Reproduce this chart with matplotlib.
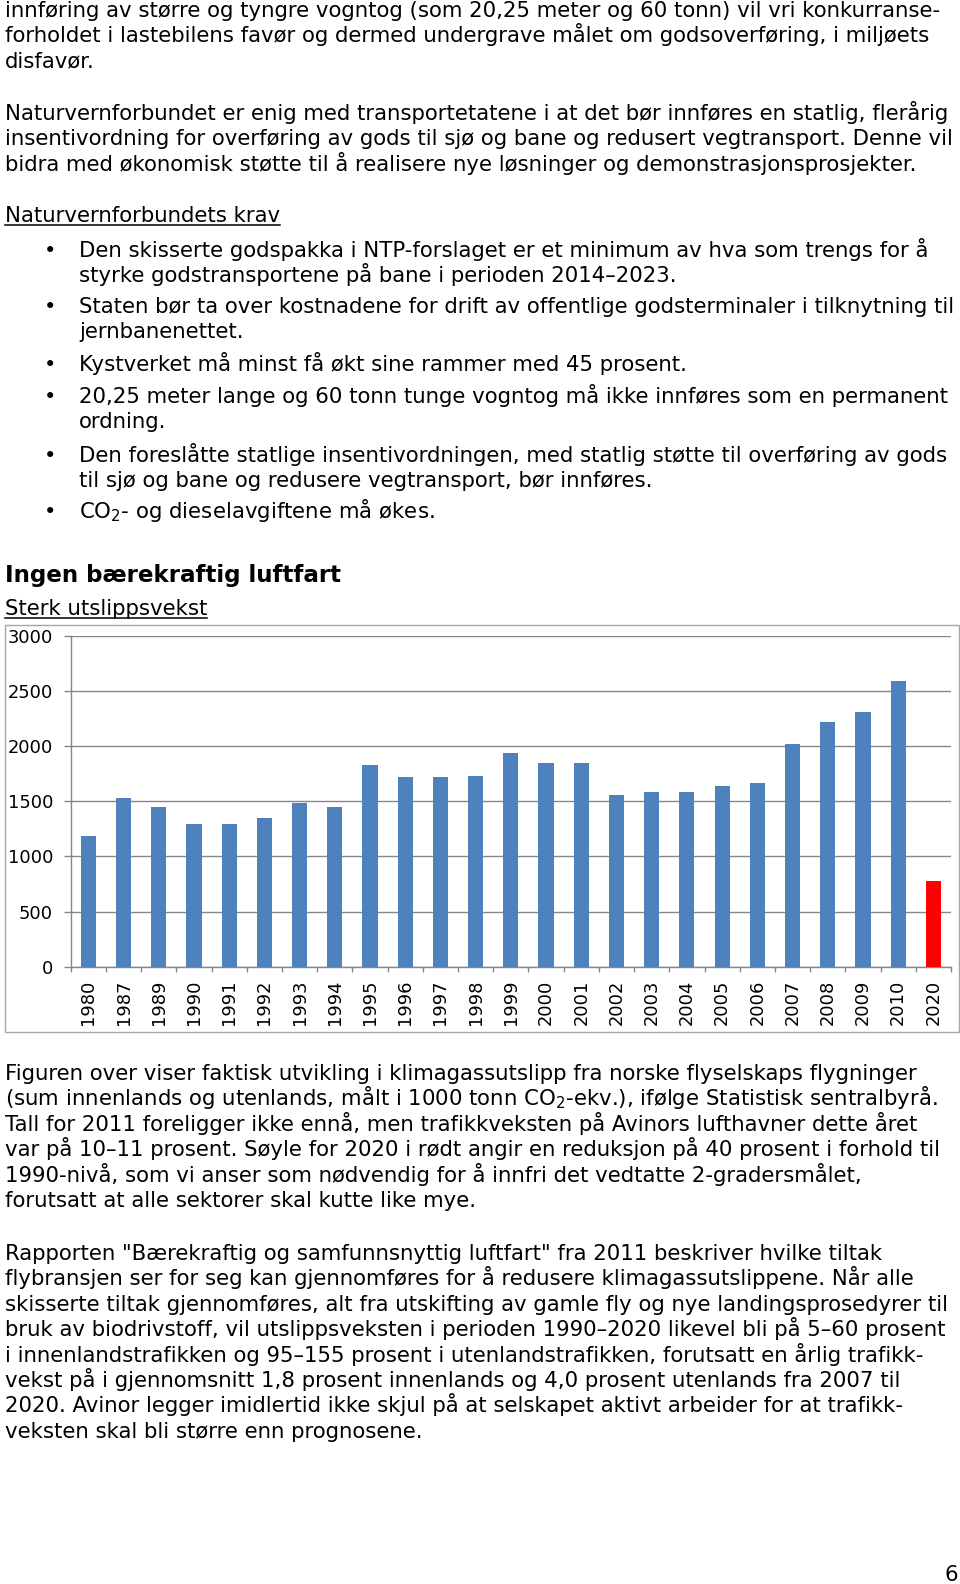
import matplotlib
matplotlib.use("Agg")
import matplotlib.pyplot as plt
from matplotlib.patches import Rectangle
from matplotlib.lines import Line2D

# ---------------- data ----------------
years = ["1980", "1987", "1989", "1990", "1991", "1992", "1993", "1994", "1995",
         "1996", "1997", "1998", "1999", "2000", "2001", "2002", "2003", "2004",
         "2005", "2006", "2007", "2008", "2009", "2010", "2020"]
emissions = [1190, 1527, 1448, 1297, 1297, 1348, 1488, 1448, 1827,
             1721, 1721, 1730, 1942, 1845, 1845, 1555, 1588, 1588,
             1642, 1670, 2024, 2224, 2315, 2591, 780]
bar_colors = ["#4F81BD"] * 24 + ["#FF0000"]
y_ticks = [0, 500, 1000, 1500, 2000, 2500, 3000]

para1 = ["innføring av større og tyngre vogntog (som 20,25 meter og 60 tonn) vil vri konkurranse-",
         "forholdet i lastebilens favør og dermed undergrave målet om godsoverføring, i miljøets",
         "disfavør."]
para2 = ["Naturvernforbundet er enig med transportetatene i at det bør innføres en statlig, flerårig",
         "insentivordning for overføring av gods til sjø og bane og redusert vegtransport. Denne vil",
         "bidra med økonomisk støtte til å realisere nye løsninger og demonstrasjonsprosjekter."]
krav_title = "Naturvernforbundets krav"
bullets = [["Den skisserte godspakka i NTP-forslaget er et minimum av hva som trengs for å",
            "styrke godstransportene på bane i perioden 2014–2023."],
           ["Staten bør ta over kostnadene for drift av offentlige godsterminaler i tilknytning til",
            "jernbanenettet."],
           ["Kystverket må minst få økt sine rammer med 45 prosent."],
           ["20,25 meter lange og 60 tonn tunge vogntog må ikke innføres som en permanent",
            "ordning."],
           ["Den foreslåtte statlige insentivordningen, med statlig støtte til overføring av gods",
            "til sjø og bane og redusere vegtransport, bør innføres."],
           ["CO$_2$- og dieselavgiftene må økes."]]
heading = "Ingen bærekraftig luftfart"
chart_title = "Sterk utslippsvekst"
para3 = ["Figuren over viser faktisk utvikling i klimagassutslipp fra norske flyselskaps flygninger",
         "(sum innenlands og utenlands, målt i 1000 tonn CO$_2$-ekv.), ifølge Statistisk sentralbyrå.",
         "Tall for 2011 foreligger ikke ennå, men trafikkveksten på Avinors lufthavner dette året",
         "var på 10–11 prosent. Søyle for 2020 i rødt angir en reduksjon på 40 prosent i forhold til",
         "1990-nivå, som vi anser som nødvendig for å innfri det vedtatte 2-gradersmålet,",
         "forutsatt at alle sektorer skal kutte like mye."]
para4 = ["Rapporten \"Bærekraftig og samfunnsnyttig luftfart\" fra 2011 beskriver hvilke tiltak",
         "flybransjen ser for seg kan gjennomføres for å redusere klimagassutslippene. Når alle",
         "skisserte tiltak gjennomføres, alt fra utskifting av gamle fly og nye landingsprosedyrer til",
         "bruk av biodrivstoff, vil utslippsveksten i perioden 1990–2020 likevel bli på 5–60 prosent",
         "i innenlandstrafikken og 95–155 prosent i utenlandstrafikken, forutsatt en årlig trafikk-",
         "vekst på i gjennomsnitt 1,8 prosent innenlands og 4,0 prosent utenlands fra 2007 til",
         "2020. Avinor legger imidlertid ikke skjul på at selskapet aktivt arbeider for at trafikk-",
         "veksten skal bli større enn prognosene."]
page_no = "6"

# ---------------- figure ----------------
W, H = 960, 1584
plt.rcParams['font.family'] = ['DejaVu Sans']
plt.rcParams['mathtext.fontset'] = 'dejavusans'
fig = plt.figure(figsize=(W / 100, H / 100), dpi=100)
fig.patch.set_facecolor("white")

FS = 15.3
LH = 25.4


def px(x, y):
    return x / W, 1 - y / H


texts_to_underline = []


def put(x, y, s, underline=False, **kw):
    kw.setdefault("fontsize", FS)
    t = fig.text(*px(x, y), s, ha="left", va="baseline", color="black", **kw)
    if underline:
        texts_to_underline.append((t, y))
    return t


LX = 5
y = 17
for line in para1:
    put(LX, y, line); y += LH
y = 120
for line in para2:
    put(LX, y, line); y += LH
put(LX, 221.7, krav_title, underline=True)
bullet_y = [256.7, 313, 371, 402.7, 461.7, 518.3]
for by, blines in zip(bullet_y, bullets):
    put(44, by, "•")
    yy = by
    for line in blines:
        put(79, yy, line); yy += LH
put(LX, 581.7, heading, fontsize=16.6, fontweight="bold")
put(LX, 615, chart_title, underline=True)
y = 1080
for line in para3:
    put(LX, y, line); y += LH
y = 1260
for line in para4:
    put(LX, y, line); y += LH
fig.text(*px(958, 1581), page_no, ha="right", va="baseline", fontsize=FS)

# chart frame
fig.patches.append(Rectangle(px(5, 1032), (959 - 5) / W, (1032 - 625) / H,
                             transform=fig.transFigure, fill=False,
                             edgecolor="#A6A6A6", linewidth=1.0))

# chart axes
ax_l, ax_r, ax_t, ax_b = 70.7, 951, 636, 966.7
ax = fig.add_axes([ax_l / W, 1 - ax_b / H, (ax_r - ax_l) / W, (ax_b - ax_t) / H])
ax.set_facecolor("none")
xs = list(range(len(years)))
ax.bar(xs, emissions, width=0.43, color=bar_colors, zorder=3)
ax.set_xlim(-0.5, len(years) - 0.5)
ax.set_ylim(0, 3000)
ax.set_yticks(y_ticks)
ax.set_yticklabels([str(v) for v in y_ticks])
ax.set_xticks(xs)
ax.set_xticklabels(years, rotation=90)
ax.set_xticks([i - 0.5 for i in range(len(years) + 1)], minor=True)
ax.tick_params(axis="x", which="major", length=0, pad=9.5, labelsize=12.9)
ax.tick_params(axis="x", which="minor", length=3.5, color="#868686", width=1)
ax.tick_params(axis="y", length=5.2, color="#868686", width=1, pad=7.5, labelsize=12.9)
ax.grid(axis="y", color="#868686", linewidth=1, zorder=0)
for s in ["top", "right"]:
    ax.spines[s].set_visible(False)
for s in ["left", "bottom"]:
    ax.spines[s].set_color("#868686")
    ax.spines[s].set_linewidth(1)

# underlines
fig.canvas.draw()
r = fig.canvas.get_renderer()
for t, yb in texts_to_underline:
    bb = t.get_window_extent(r)
    uy = yb + 3
    fig.lines.append(Line2D([bb.x0 / W, bb.x1 / W], [1 - uy / H, 1 - uy / H],
                            transform=fig.transFigure, color="black", linewidth=1.1))

fig.savefig("out.png", dpi=100, facecolor="white")
